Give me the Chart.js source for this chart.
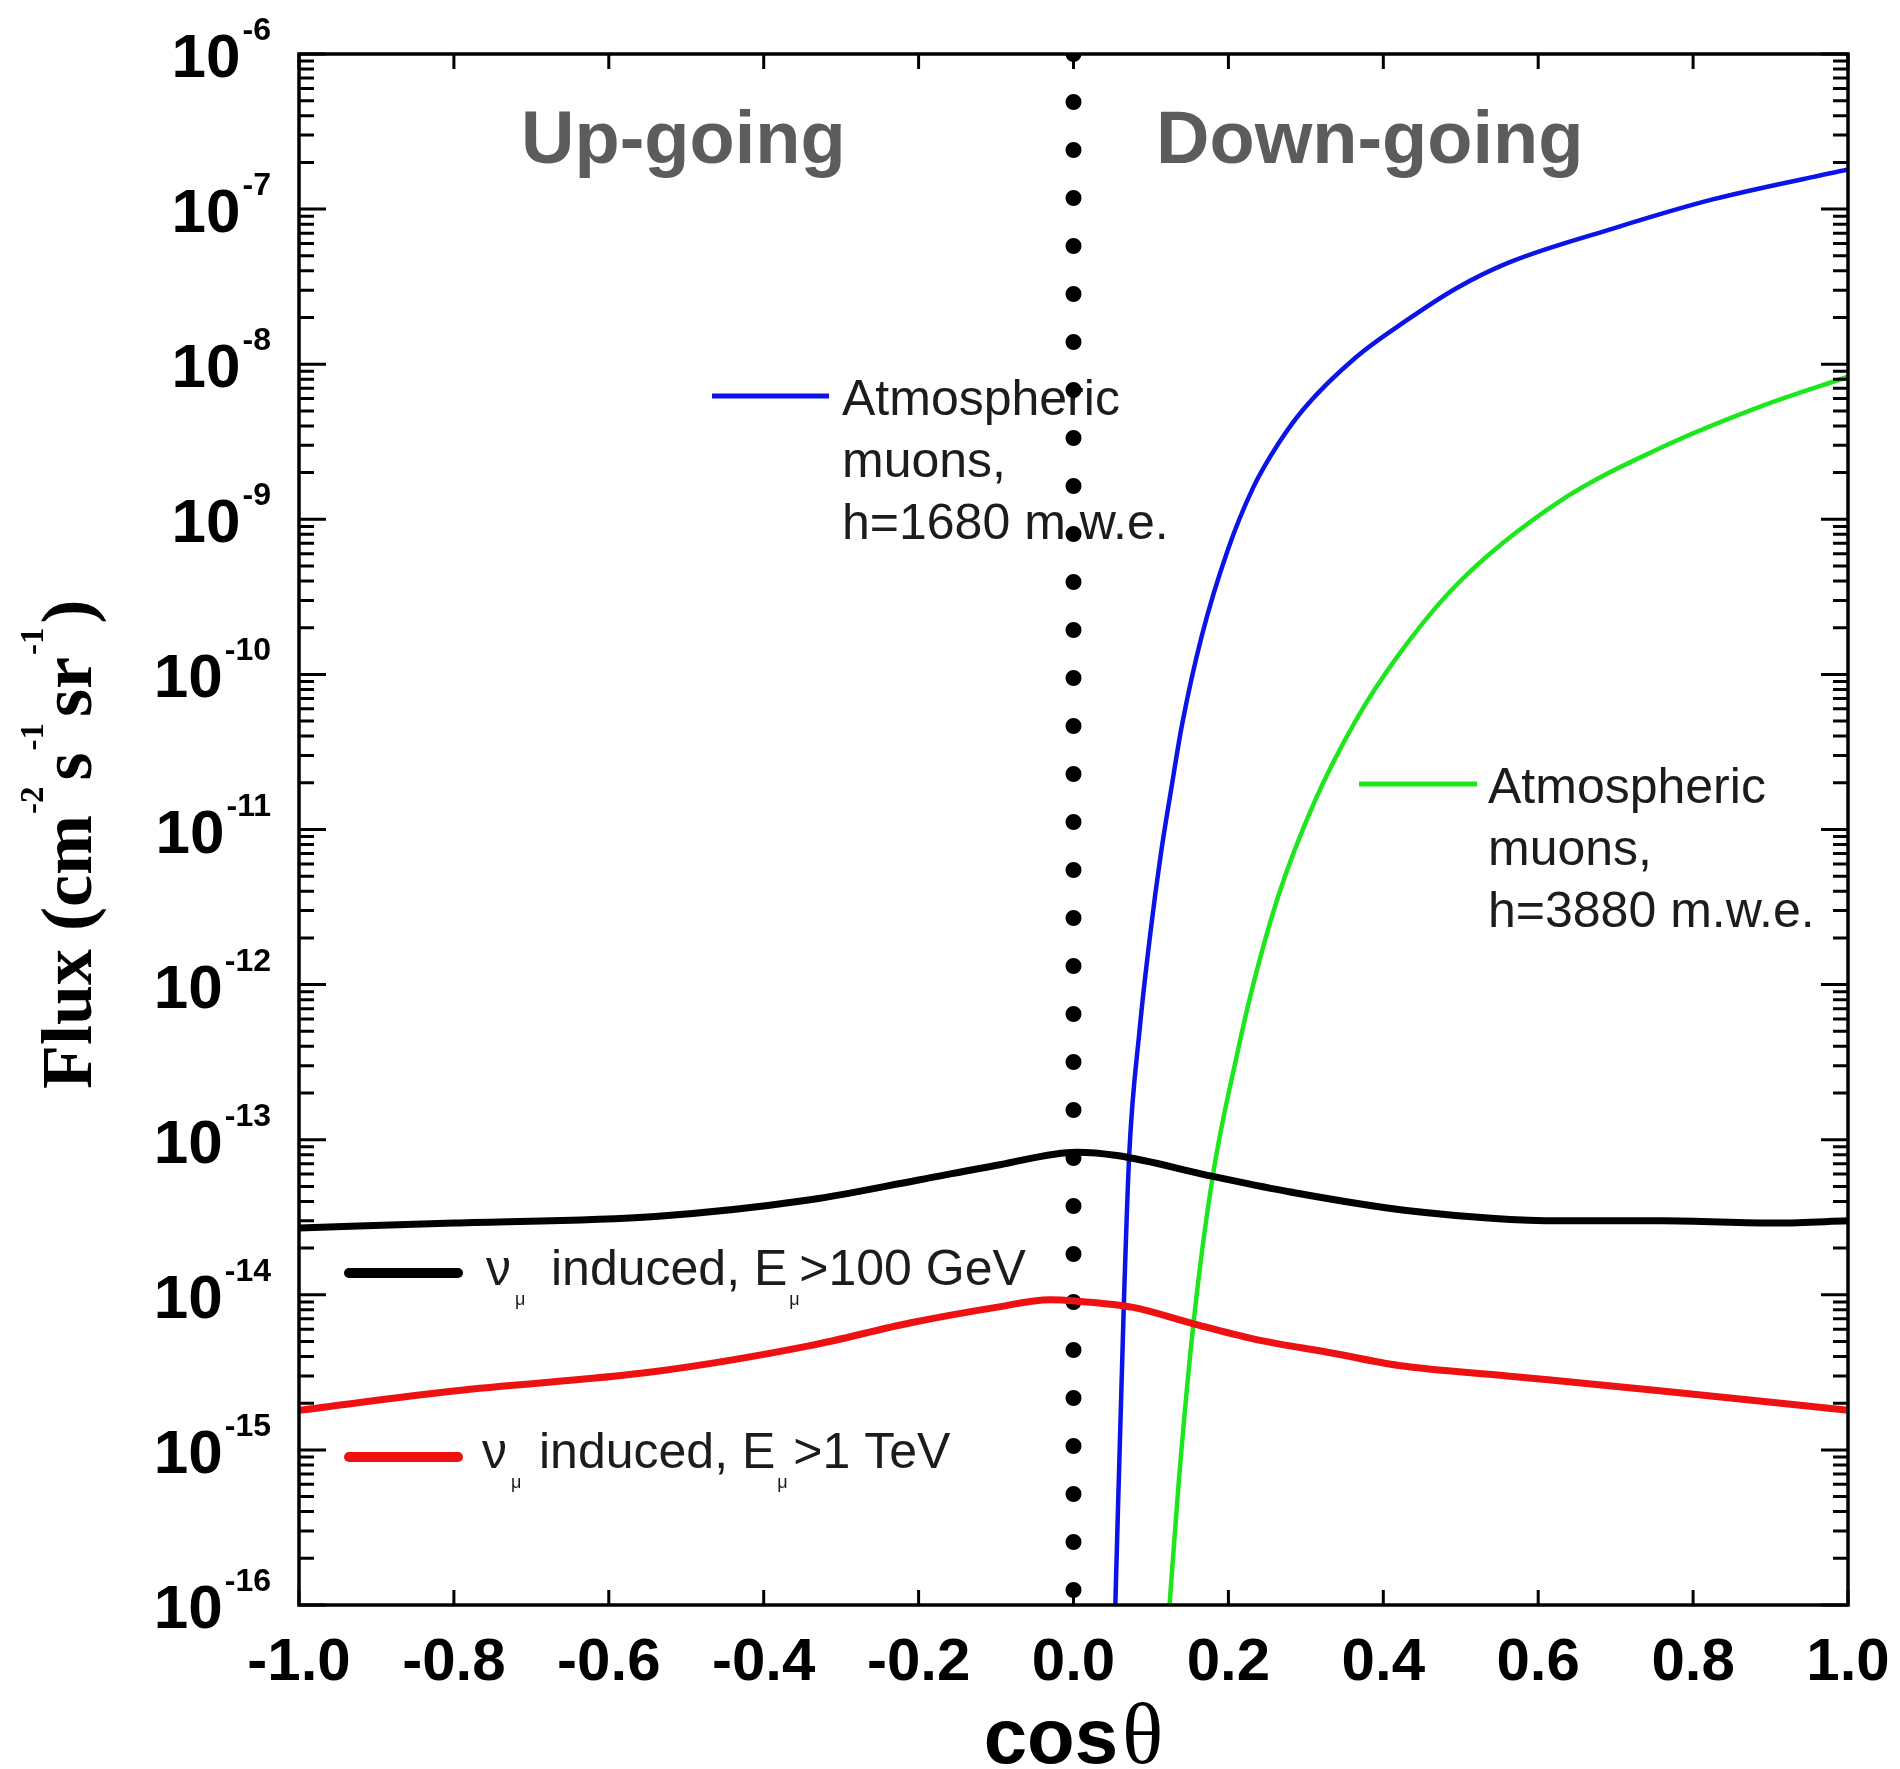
<!DOCTYPE html>
<html>
<head>
<meta charset="utf-8">
<script src="https://cdn.jsdelivr.net/npm/chart.js@4/dist/chart.umd.min.js"></script>
<style>
  html, body { margin: 0; padding: 0; background: #fff; }
  canvas { display: block; }
</style>
</head>
<body>
<canvas id="fluxChart" width="1900" height="1769"></canvas>
<script>
// =====================================================
// DATA
// =====================================================
// nu_mu induced, E_mu > 100 GeV
const cosBlack  = [-1.0, -0.8, -0.54, -0.34, -0.2, -0.095, 0.004, 0.056, 0.18, 0.28, 0.43, 0.63, 0.76, 0.91, 1.0];
const fluxBlack = [2.7e-14, 2.9e-14, 3.2e-14, 4.1e-14, 5.5e-14, 6.9e-14, 8.3e-14, 7.9e-14, 5.8e-14, 4.6e-14, 3.5e-14, 3.0e-14, 3.0e-14, 2.9e-14, 3.0e-14];

// nu_mu induced, E_mu > 1 TeV
const cosRed  = [-1.0, -0.8, -0.54, -0.34, -0.21, -0.1, -0.03, 0.004, 0.077, 0.155, 0.232, 0.335, 0.42, 0.56, 0.76, 1.0];
const fluxRed = [1.8e-15, 2.4e-15, 3.2e-15, 4.7e-15, 6.6e-15, 8.3e-15, 9.3e-15, 9.1e-15, 8.3e-15, 6.5e-15, 5.2e-15, 4.2e-15, 3.5e-15, 3.0e-15, 2.4e-15, 1.8e-15];

// Atmospheric muons, h=1680 m.w.e.
const cosBlue  = [0.054, 0.065, 0.072, 0.0855, 0.099, 0.1125, 0.126, 0.140, 0.166, 0.199, 0.232, 0.265, 0.298, 0.364, 0.429, 0.495, 0.561, 0.693, 0.824, 1.0];
const fluxBlue = [1e-16, 8.7e-15, 8.1e-14, 5.2e-13, 2.1e-12, 6.8e-12, 1.8e-11, 4.7e-11, 1.8e-10, 6.3e-10, 1.6e-9, 3.1e-9, 5.2e-9, 1.1e-8, 1.9e-8, 3.1e-8, 4.5e-8, 7.4e-8, 1.15e-7, 1.8e-7];

// Atmospheric muons, h=3880 m.w.e.
const cosGreen  = [0.124, 0.136, 0.155, 0.180, 0.2125, 0.232, 0.265, 0.311, 0.364, 0.416, 0.495, 0.627, 0.759, 0.890, 1.0];
const fluxGreen = [1e-16, 6.3e-16, 6.6e-15, 5.9e-14, 3.8e-13, 1.0e-12, 3.8e-12, 1.5e-11, 5.0e-11, 1.26e-10, 3.8e-10, 1.3e-9, 2.9e-9, 5.4e-9, 8.3e-9];

// boundary between up-going and down-going
const cosBoundary  = [0, 0];
const fluxBoundary = [1e-6, 1e-16];

// axes
const xTickValues = [-1.0, -0.8, -0.6, -0.4, -0.2, 0.0, 0.2, 0.4, 0.6, 0.8, 1.0];
const xTickLabels = ['-1.0', '-0.8', '-0.6', '-0.4', '-0.2', '0.0', '0.2', '0.4', '0.6', '0.8', '1.0'];
const yDecades    = [-6, -7, -8, -9, -10, -11, -12, -13, -14, -15, -16];
const yTickLabels = ['-6', '-7', '-8', '-9', '-10', '-11', '-12', '-13', '-14', '-15', '-16'];

const SANS  = '"Liberation Sans", Arial, Helvetica, sans-serif';
const SERIF = '"Liberation Serif", "Times New Roman", serif';

function toPoints(xs, ys) { return xs.map((x, i) => ({ x: x, y: ys[i] })); }

// =====================================================
// HELPERS: nu_mu legend text with subscripts
// =====================================================
function drawNuText(ctx, xNu, xMain, baseline, tail, tailGap) {
    ctx.font = '50px ' + SANS;
    ctx.fillText('\u03bd', xNu, baseline);
    const wNu = ctx.measureText('\u03bd').width;
    ctx.fillText('induced, E', xMain, baseline);
    const wMain = ctx.measureText('induced, E').width;
    ctx.font = '18px ' + SANS;
    ctx.fillText('\u03bc', xNu + wNu + 4, baseline + 20);
    ctx.fillText('\u03bc', xMain + wMain + 2, baseline + 20);
    ctx.font = '50px ' + SANS;
    ctx.fillText(tail, xMain + wMain + tailGap, baseline);
}

// =====================================================
// PLUGIN: frame, inward ticks, labels, annotations
// =====================================================
const decorPlugin = {
    id: 'decor',
    beforeDatasetsDraw(chart) {
        const ctx = chart.ctx;
        ctx.save();
        ctx.textBaseline = 'alphabetic';
        ctx.textAlign = 'left';

        // Up-going / Down-going
        ctx.fillStyle = '#5c5c5c';
        ctx.font = 'bold 74px ' + SANS;
        ctx.fillText('Up-going', 521, 163);
        ctx.fillText('Down-going', 1156, 163);

        // legend: blue
        ctx.lineCap = 'butt';
        ctx.strokeStyle = '#0a14e6'; ctx.lineWidth = 5;
        ctx.beginPath(); ctx.moveTo(712, 396); ctx.lineTo(829, 396); ctx.stroke();
        ctx.fillStyle = '#1c1c1c';
        ctx.font = '50px ' + SANS;
        ctx.fillText('Atmospheric', 842, 415);
        ctx.fillText('muons,', 842, 477);
        ctx.fillText('h=1680 m.w.e.', 842, 539);

        // legend: green
        ctx.strokeStyle = '#1ee61e'; ctx.lineWidth = 5;
        ctx.beginPath(); ctx.moveTo(1359, 784); ctx.lineTo(1477, 784); ctx.stroke();
        ctx.fillText('Atmospheric', 1488, 803);
        ctx.fillText('muons,', 1488, 865);
        ctx.fillText('h=3880 m.w.e.', 1488, 927);

        // legend: black / red
        ctx.lineCap = 'round';
        ctx.strokeStyle = '#000'; ctx.lineWidth = 10;
        ctx.beginPath(); ctx.moveTo(349, 1273); ctx.lineTo(458, 1273); ctx.stroke();
        ctx.strokeStyle = '#ee1111';
        ctx.beginPath(); ctx.moveTo(349, 1457); ctx.lineTo(458, 1457); ctx.stroke();

        ctx.fillStyle = '#1c1c1c';
        drawNuText(ctx, 486, 551, 1285, '>100 GeV', 12);
        drawNuText(ctx, 482, 539, 1468, '>1 TeV', 18);
        ctx.restore();
    },
    afterDatasetsDraw(chart) {
        const ctx = chart.ctx;
        const xs = chart.scales.x, ys = chart.scales.y;
        const a = chart.chartArea;
        ctx.save();
        ctx.strokeStyle = '#000';
        ctx.fillStyle = '#000';

        // inward ticks on log axes (left and right)
        ctx.lineWidth = 3;
        ctx.beginPath();
        yDecades.forEach(n => {
            const y = ys.getPixelForValue(Math.pow(10, n));
            ctx.moveTo(a.left, y); ctx.lineTo(a.left + 27, y);
            ctx.moveTo(a.right, y); ctx.lineTo(a.right - 27, y);
        });
        for (let n = -16; n < -6; n++) {
            for (let k = 2; k <= 9; k++) {
                const y = ys.getPixelForValue(k * Math.pow(10, n));
                ctx.moveTo(a.left, y); ctx.lineTo(a.left + 15, y);
                ctx.moveTo(a.right, y); ctx.lineTo(a.right - 15, y);
            }
        }
        // inward ticks on cos axis (bottom and top)
        xTickValues.forEach(v => {
            const x = xs.getPixelForValue(v);
            ctx.moveTo(x, a.bottom); ctx.lineTo(x, a.bottom - 15);
            ctx.moveTo(x, a.top); ctx.lineTo(x, a.top + 15);
        });
        ctx.stroke();

        // frame
        ctx.lineWidth = 3.5;
        ctx.strokeRect(a.left, a.top, a.right - a.left, a.bottom - a.top);

        // y tick labels 10^n
        const R = 271;
        yDecades.forEach((n, i) => {
            const y = ys.getPixelForValue(Math.pow(10, n));
            ctx.font = 'bold 32px ' + SANS;
            const ew = ctx.measureText(yTickLabels[i]).width;
            ctx.textAlign = 'left';
            ctx.fillText(yTickLabels[i], R - ew, y - 14);
            ctx.font = 'bold 62px ' + SANS;
            ctx.textAlign = 'right';
            ctx.fillText('10', R - ew - 2, y + 23);
        });

        // x tick labels
        ctx.font = 'bold 60px ' + SANS;
        ctx.textAlign = 'center';
        xTickValues.forEach((v, i) => {
            ctx.fillText(xTickLabels[i], xs.getPixelForValue(v), 1680);
        });

        // x title: cos(theta)
        ctx.textAlign = 'left';
        ctx.font = 'bold 78px ' + SANS;
        const wc = ctx.measureText('cos').width;
        ctx.font = '86px ' + SERIF;
        const wt = ctx.measureText('\u03b8').width;
        const cx0 = xs.getPixelForValue(0) - (wc + 4 + wt) / 2;
        ctx.font = 'bold 78px ' + SANS;
        ctx.fillText('cos', cx0, 1763);
        ctx.font = '86px ' + SERIF;
        ctx.fillText('\u03b8', cx0 + wc + 4, 1763);

        // y title, rotated
        ctx.save();
        ctx.translate(91, 1089);
        ctx.rotate(-Math.PI / 2);
        const segs = [['Flux (cm', 0, 1], ['-2', 1, 6], ['s', 0, 2], ['-1', 1, 6], ['sr', 0, 2], ['-1', 1, 4], [')', 0, 0]];
        let px = 0;
        segs.forEach(s => {
            ctx.font = s[1] ? 'bold 33px ' + SERIF : 'bold 72px ' + SERIF;
            ctx.fillText(s[0], px, s[1] ? -48 : 0);
            px += ctx.measureText(s[0]).width + s[2];
        });
        ctx.restore();

        ctx.restore();
    }
};

// =====================================================
// CHART
// =====================================================
const lineBase = { pointRadius: 0, fill: false, borderJoinStyle: 'round', cubicInterpolationMode: 'monotone' };

new Chart(document.getElementById('fluxChart'), {
    type: 'line',
    data: {
        datasets: [
            { ...lineBase, label: 'nu_mu induced, E_mu>100 GeV', data: toPoints(cosBlack, fluxBlack), borderColor: '#000000', borderWidth: 7 },
            { ...lineBase, label: 'nu_mu induced, E_mu>1 TeV', data: toPoints(cosRed, fluxRed), borderColor: '#ee1111', borderWidth: 7 },
            { ...lineBase, label: 'Atmospheric muons, h=1680 m.w.e.', data: toPoints(cosBlue, fluxBlue), borderColor: '#0a14e6', borderWidth: 4.5 },
            { ...lineBase, label: 'Atmospheric muons, h=3880 m.w.e.', data: toPoints(cosGreen, fluxGreen), borderColor: '#1ee61e', borderWidth: 4.5 },
            { label: 'boundary', data: toPoints(cosBoundary, fluxBoundary), pointRadius: 0, fill: false, tension: 0,
              borderColor: '#000000', borderWidth: 16, borderDash: [0, 48], borderCapStyle: 'round' }
        ]
    },
    options: {
        responsive: false,
        animation: false,
        devicePixelRatio: 1,
        layout: { padding: { left: 299, top: 54, right: 52, bottom: 164 } },
        plugins: { legend: { display: false }, tooltip: { enabled: false } },
        scales: {
            x: { type: 'linear', min: -1, max: 1, display: false },
            y: { type: 'logarithmic', min: 1e-16, max: 1e-6, display: false }
        }
    },
    plugins: [decorPlugin]
});
</script>
</body>
</html>
